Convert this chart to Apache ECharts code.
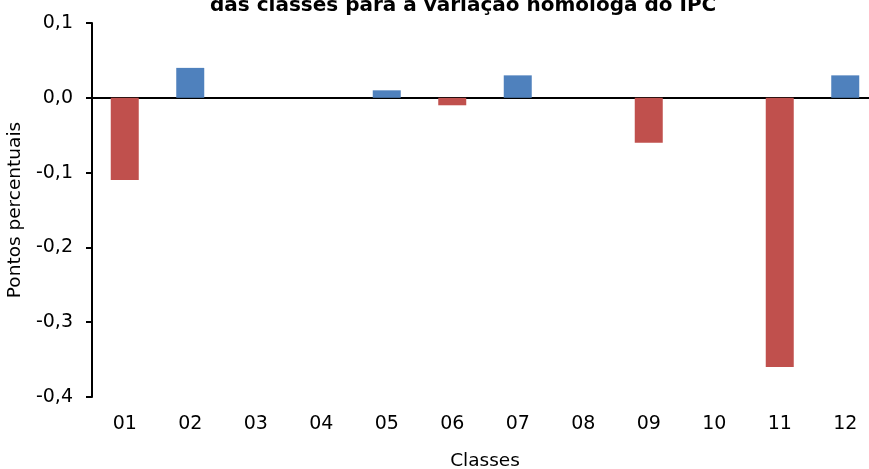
<!DOCTYPE html>
<html>
<head>
<meta charset="utf-8">
<script src="https://cdn.jsdelivr.net/npm/echarts@6/dist/echarts.min.js"></script>
<style>
html,body{margin:0;padding:0;background:#fff;overflow:hidden;}
#J_Main{width:869px;height:469px;}
</style>
</head>
<body>
<div id="J_Main"></div>
<script>
// classes do IPC e contributos (pontos percentuais)
var classes = ["01","02","03","04","05","06","07","08","09","10","11","12"];
var contributos = [-0.11, 0.04, 0, 0, 0.01, -0.01, 0.03, 0, -0.06, 0, -0.36, 0.03];

var corPositivo = "#4F81BD", corNegativo = "#C0504D";
var fonte = "DejaVu Sans";

function fmt(v){
    return v.toFixed(1).replace(".", ",");
}

var myChart = echarts.init(document.getElementById("J_Main"));
var option = {
    animation: false,
    title: {
        text: "das classes para a variação homóloga do IPC",
        left: 205,
        top: -9,
        textStyle: {
            fontFamily: fonte,
            fontWeight: "bold",
            fontSize: 20,
            color: "#000"
        }
    },
    grid: {
        left: 92,
        top: 23,
        width: 786,
        height: 374,
        outerBoundsMode: "none"
    },
    xAxis: {
        type: "category",
        data: classes,
        name: "Classes",
        nameLocation: "middle",
        nameGap: 55,
        nameTextStyle: {fontFamily: fonte, fontSize: 18.5, color: "#000"},
        axisLine: {onZero: true, lineStyle: {color: "#000", width: 2}},
        axisTick: {show: false},
        axisLabel: {
            fontFamily: fonte, fontSize: 19, color: "#000",
            margin: 18,
            interval: 0
        }
    },
    yAxis: {
        type: "value",
        min: -0.4,
        max: 0.1,
        interval: 0.1,
        name: "Pontos percentuais",
        nameLocation: "middle",
        nameGap: 64,
        nameTextStyle: {fontFamily: fonte, fontSize: 18.5, color: "#000"},
        axisLine: {show: true, lineStyle: {color: "#000", width: 2}},
        axisTick: {show: true, length: 6, lineStyle: {color: "#000", width: 2}},
        splitLine: {show: false},
        axisLabel: {
            fontFamily: fonte, fontSize: 19, color: "#000",
            margin: 19,
            formatter: function(v){ return fmt(v); }
        }
    },
    series: [{
        type: "bar",
        barWidth: 28,
        data: contributos.map(function(v){
            return {value: v, itemStyle: {color: v < 0 ? corNegativo : corPositivo}};
        })
    }]
};
myChart.setOption(option);
</script>
</body>
</html>
